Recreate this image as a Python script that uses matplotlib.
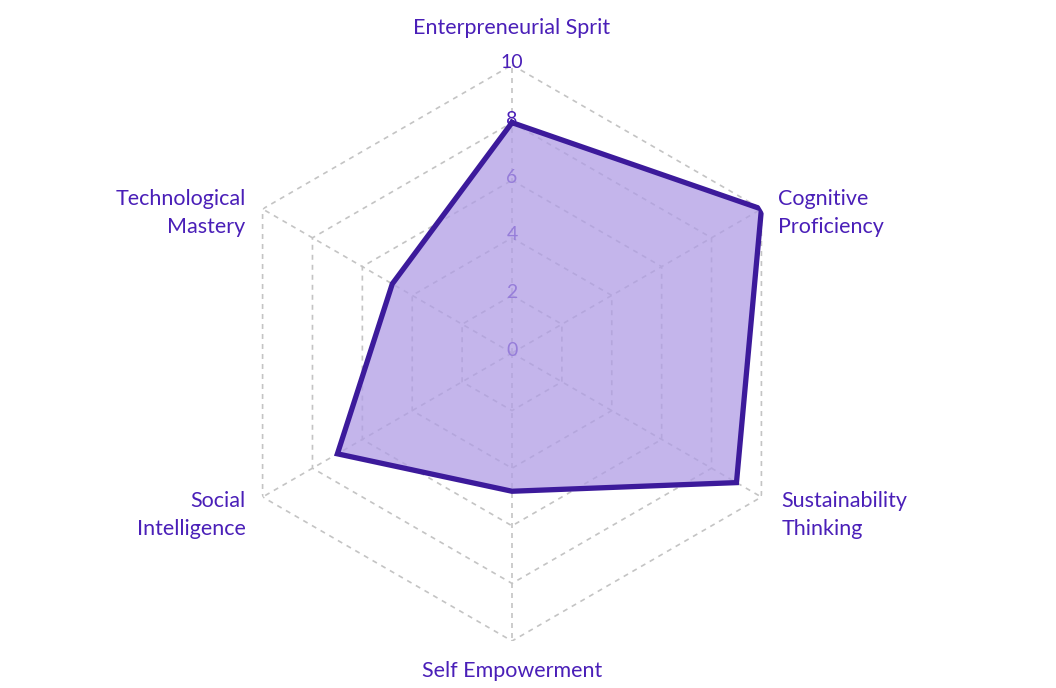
import numpy as np
import matplotlib
matplotlib.use("Agg")
import matplotlib.pyplot as plt

plt.rcParams['font.family'] = ['Lato', 'DejaVu Sans']

# data
categories = ["Enterpreneurial Sprit", "Cognitive\nProficiency", "Sustainability\nThinking",
              "Self Empowerment", "Social\nIntelligence", "Technological\nMastery"]
values = [8, 10, 9, 4.8, 7, 4.8]
levels = [2, 4, 6, 8, 10]
tick_labels = ["0", "2", "4", "6", "8", "10"]

label_color = "#4a1fb8"
line_color = "#3c1a9b"
grid_color = "#c4c4c4"

n = len(categories)
angles = np.linspace(0, 2 * np.pi, n, endpoint=False)
closed_angles = np.append(angles, angles[0])

fig = plt.figure(figsize=(10.56, 6.88), dpi=100)
ax = fig.add_axes([0.2121, 0.0683, 0.5455, 0.8372], projection='polar')
ax.set_theta_offset(np.pi / 2)
ax.set_theta_direction(-1)
ax.set_ylim(0, 10)
ax.grid(False)
ax.spines['polar'].set_visible(False)
ax.set_xticks([])
ax.set_yticks([])
ax.patch.set_alpha(0)

# hexagon grid
for lv in levels:
    ax.plot(closed_angles, [lv] * (n + 1), color=grid_color, lw=1.2,
            ls=(0, (3, 3)), zorder=1)
for a in angles:
    ax.plot([a, a], [0, 10], color=grid_color, lw=1.2, ls=(0, (3, 3)), zorder=1)

# radial tick labels
for i, t in enumerate(tick_labels):
    ax.annotate(t, xy=(0, i * 2), xytext=(0, 3), textcoords='offset pixels',
                ha='center', va='center', fontsize=14, color=label_color, zorder=2)

# data polygon
vals = values + values[:1]
ax.fill(closed_angles, vals, color="#b09de5", alpha=0.75, zorder=3, lw=0)
ax.plot(closed_angles, vals, color=line_color, lw=3.8, solid_joinstyle='miter', zorder=4)

# category labels
offsets = [(0, 37, 'center'), (17, -4, 'left'), (20, -18, 'left'),
           (0, -30, 'center'), (-17, -18, 'right'), (-17, -4, 'right')]
for a, lab, (dx, dy, ha) in zip(angles, categories, offsets):
    ax.annotate(lab, xy=(a, 10), xytext=(dx, dy), textcoords='offset pixels',
                ha=ha, va='center', fontsize=15.5, color=label_color,
                linespacing=1.5, annotation_clip=False)

fig.savefig("out.png", dpi=100)
